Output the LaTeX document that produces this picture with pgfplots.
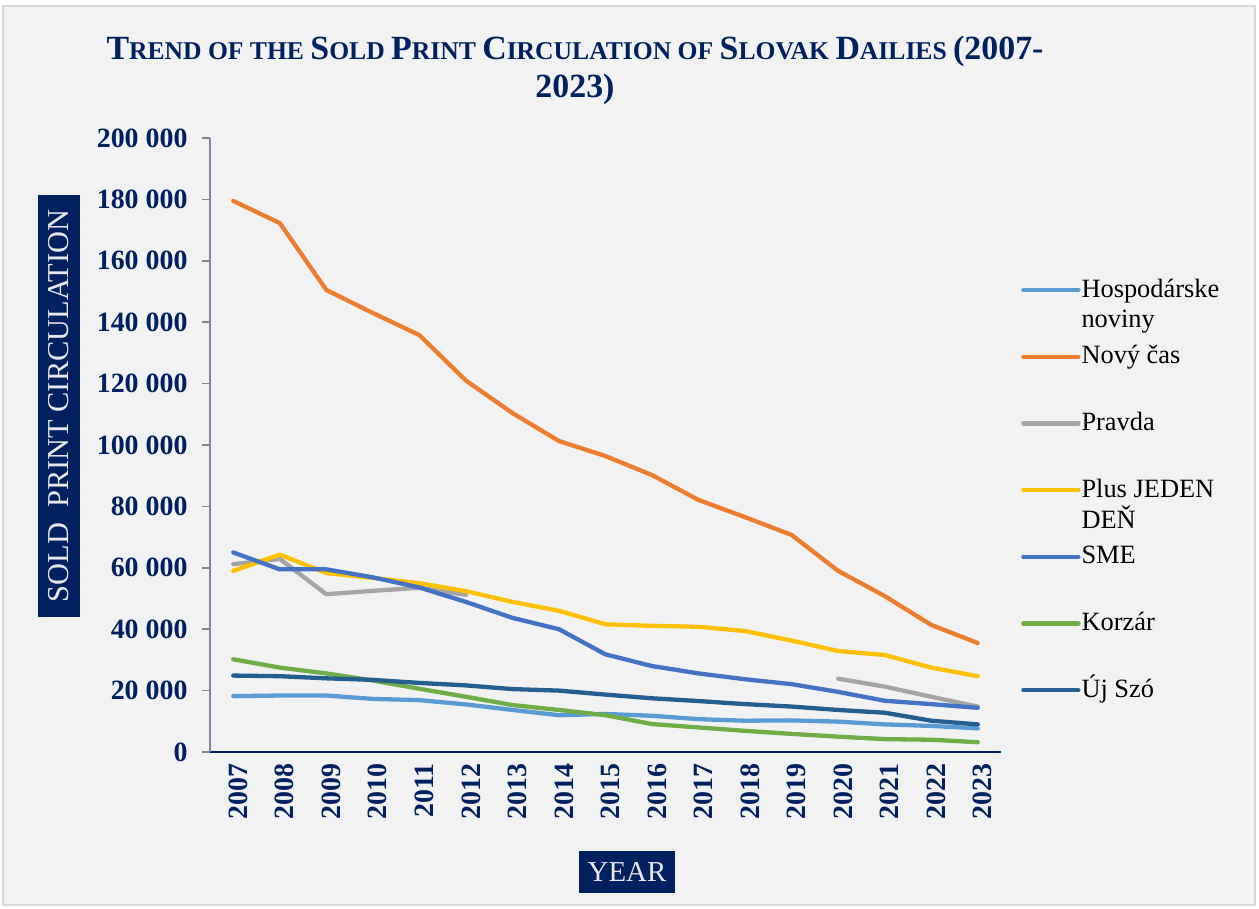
\documentclass[border=0pt]{standalone}
\usepackage{pgfplots}
\pgfplotsset{compat=1.18}
\usepackage{fontspec}
\setmainfont{Liberation Serif}
\definecolor{navy}{HTML}{002060}
\definecolor{bgc}{HTML}{F2F2F2}
\definecolor{bordc}{HTML}{D9D9D9}
\definecolor{yaxc}{HTML}{7C869A}
\definecolor{lbltxt}{HTML}{E8E8EC}
\definecolor{cHosp}{HTML}{5B9BD5}
\definecolor{cNovy}{HTML}{ED7D31}
\definecolor{cPravda}{HTML}{A5A5A5}
\definecolor{cPlus}{HTML}{FFC000}
\definecolor{cSME}{HTML}{4472C4}
\definecolor{cKorzar}{HTML}{70AD47}
\definecolor{cUj}{HTML}{255E91}
\newcommand{\B}[1]{{\fontsize{34}{38}\selectfont #1}}
\newcommand{\s}[1]{{\fontsize{25.7}{38}\selectfont #1}}
\begin{document}
\begin{tikzpicture}
\begin{scope}[x=1bp,y=1bp]
\fill[white] (0,0) rectangle (1259,-909);
\filldraw[fill=bgc, draw=bordc, line width=1.2bp] (3,-6) rectangle (1255,-905);
% title
\node[anchor=base, text=navy, font=\bfseries, inner sep=0] at (575,-59)
 {\B{T}\s{REND OF THE }\B{S}\s{OLD }\B{P}\s{RINT }\B{C}\s{IRCULATION OF }\B{S}\s{LOVAK }\B{D}\s{AILIES }\B{(2007-}};
\node[anchor=base, text=navy, font=\bfseries, inner sep=0] at (575,-97) {\B{2023)}};
% y label
\node[fill=navy, text=lbltxt, rotate=90, minimum width=422bp, minimum height=42bp, inner sep=0,
 font=\fontsize{30.5}{32}\selectfont] at (59,-406) {SOLD\ \ PRINT CIRCULATION};
% x label
\node[fill=navy, text=lbltxt, minimum width=96bp, minimum height=42bp, inner sep=0,
 font=\fontsize{29}{32}\selectfont] at (627,-872) {YEAR};
\end{scope}
\begin{axis}[
 at={(210bp,-752bp)}, anchor=south west,
 scale only axis, width=791bp, height=614bp,
 xmin=2006.5, xmax=2023.5, ymin=0, ymax=200000,
 axis x line*=bottom, axis y line*=left,
 x axis line style={navy, line width=1.8bp},
 y axis line style={yaxc, line width=1.5bp},
 tick align=outside,
 major tick length=8bp, minor tick length=8bp,
 xtick={2007,...,2023},
 xticklabels={2007,2008,2009,2010,2011,2012,2013,2014,2015,2016,2017,2018,2019,2020,2021,2022,2023},
 minor xtick={2006.5,2007.5,...,2023.5},
 xtick style={draw=none},
 minor x tick style={navy, line width=1.8bp},
 ytick={0,20000,...,200000},
 ytick style={yaxc, line width=1.5bp},
 scaled y ticks=false,
 yticklabel style={font=\fontsize{28}{30}\selectfont\bfseries, text=navy, xshift=-11bp,
   /pgf/number format/.cd, fixed, 1000 sep={\hspace{0.25em}}, assume math mode=true},
 xticklabel style={font=\fontsize{28}{30}\selectfont\bfseries, text=navy, rotate=90, anchor=east, yshift=-5bp},
 unbounded coords=jump,
 every axis plot/.append style={line width=4.3bp, line cap=round, line join=round},
 legend cell align=left,
 legend style={at={(1.0215,0.777)}, anchor=north west, draw=none, fill=none,
   font=\fontsize{26.5}{30}\selectfont,
   nodes={inner sep=0pt, text height=20bp, text depth=40bp},
   row sep=6.7bp, column sep=1bp},
 legend image code/.code={\draw[#1] (0bp,17bp) -- (55bp,17bp);},
]
\addplot[cHosp] coordinates {(2007,18200)(2008,18400)(2009,18400)(2010,17300)(2011,16900)(2012,15500)(2013,13700)(2014,12000)(2015,12400)(2016,11800)(2017,10700)(2018,10200)(2019,10300)(2020,9900)(2021,9000)(2022,8500)(2023,7700)};
\addlegendentry{\begin{tabular}[t]{@{}l@{}}Hospodárske\\noviny\end{tabular}}
\addplot[cNovy] coordinates {(2007,179500)(2008,172300)(2009,150500)(2010,143000)(2011,135800)(2012,121000)(2013,110400)(2014,101300)(2015,96400)(2016,90200)(2017,82100)(2018,76500)(2019,70700)(2020,59000)(2021,50800)(2022,41400)(2023,35500)};
\addlegendentry{Nový čas}
\addplot[cPravda] coordinates {(2007,61200)(2008,62900)(2009,51400)(2010,52500)(2011,53500)(2012,51200)(2013,nan)(2014,nan)(2015,nan)(2016,nan)(2017,nan)(2018,nan)(2019,nan)(2020,23900)(2021,21300)(2022,18000)(2023,14800)};
\addlegendentry{Pravda}
\addplot[cPlus] coordinates {(2007,59000)(2008,64300)(2009,58300)(2010,56700)(2011,55000)(2012,52400)(2013,48900)(2014,46000)(2015,41600)(2016,41100)(2017,40800)(2018,39400)(2019,36300)(2020,32900)(2021,31600)(2022,27500)(2023,24700)};
\addlegendentry{\begin{tabular}[t]{@{}l@{}}Plus JEDEN\\DEŇ\end{tabular}}
\addplot[cSME] coordinates {(2007,65000)(2008,59500)(2009,59500)(2010,56900)(2011,53600)(2012,48900)(2013,43700)(2014,40000)(2015,31800)(2016,28000)(2017,25600)(2018,23700)(2019,22100)(2020,19600)(2021,16700)(2022,15600)(2023,14400)};
\addlegendentry{SME}
\addplot[cKorzar] coordinates {(2007,30200)(2008,27500)(2009,25600)(2010,23300)(2011,20600)(2012,18000)(2013,15300)(2014,13700)(2015,12000)(2016,9100)(2017,8000)(2018,6900)(2019,5900)(2020,5000)(2021,4200)(2022,4000)(2023,3200)};
\addlegendentry{Korzár}
\addplot[cUj] coordinates {(2007,24900)(2008,24700)(2009,24000)(2010,23500)(2011,22500)(2012,21700)(2013,20500)(2014,20000)(2015,18700)(2016,17500)(2017,16600)(2018,15600)(2019,14800)(2020,13700)(2021,12800)(2022,10200)(2023,9000)};
\addlegendentry{Új Szó}
\end{axis}
\end{tikzpicture}
\end{document}
